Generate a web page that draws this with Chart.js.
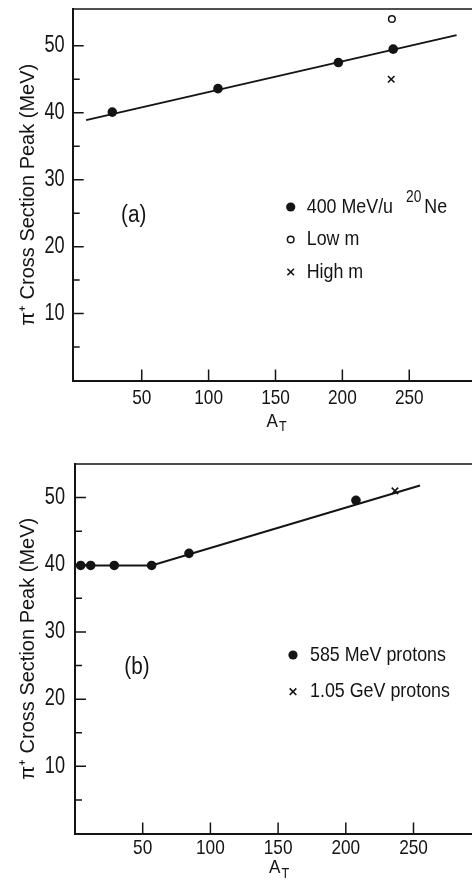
<!DOCTYPE html>
<html>
<head>
<meta charset="utf-8">
<script src="https://cdn.jsdelivr.net/npm/chart.js@4.4.0/dist/chart.umd.min.js"></script>
<style>
  html, body { margin: 0; padding: 0; background: #fff; }
  canvas { display: block; }
</style>
</head>
<body>
<canvas id="chart-a" width="472" height="441"></canvas>
<canvas id="chart-b" width="472" height="441"></canvas>
<script>
// (a) 400 MeV/u 20Ne beam
const neTargetA = [28, 107, 197, 238];
const nePeak = [40.1, 43.6, 47.5, 49.5];
const lowMTargetA = [237];
const lowMPeak = [54.0];
const highMTargetA = [236.5];
const highMPeak = [45.0];
const fitAX = [8.4, 285.4];
const fitAY = [38.9, 51.6];

// (b) proton beams
const protonTargetA = [4.2, 11.6, 29, 56.6, 84.2, 207.5];
const protonPeak = [39.9, 39.9, 39.9, 39.9, 41.7, 49.6];
const gevTargetA = [236.3];
const gevPeak = [51.0];
const fitBX = [4.2, 56.6, 254.8];
const fitBY = [39.9, 39.9, 51.8];

const xTickVals = [50, 100, 150, 200, 250];
const yTickVals = [10, 20, 30, 40, 50];
const yMinorVals = [5, 15, 25, 35, 45];

const FONT = '"Liberation Sans", Arial, sans-serif';
const INK = "#141414";
const SQ = 0.82; // horizontal squeeze, the original lettering is condensed

function pts(xs, ys) {
	return xs.map((v, i) => ({ x: v, y: ys[i] }));
}

function narrowText(ctx, text, x, y, size, align, squeeze) {
	let sq = squeeze || SQ;
	ctx.save();
	ctx.translate(x, y);
	ctx.scale(sq, 1);
	ctx.font = size + "px " + FONT;
	ctx.textAlign = align || "left";
	ctx.textBaseline = "middle";
	ctx.fillText(text, 0, 0);
	let w = ctx.measureText(text).width * sq;
	ctx.restore();
	return w;
}

function drawMarker(ctx, kind, x, y) {
	ctx.beginPath();
	if (kind === "dot") {
		ctx.arc(x, y, 4.6, 0, Math.PI * 2);
		ctx.fill();
	} else if (kind === "ring") {
		ctx.lineWidth = 1.5;
		ctx.arc(x, y, 3.3, 0, Math.PI * 2);
		ctx.stroke();
	} else {
		ctx.lineWidth = 1.6;
		ctx.moveTo(x - 3.3, y - 3.3);
		ctx.lineTo(x + 3.3, y + 3.3);
		ctx.moveTo(x + 3.3, y - 3.3);
		ctx.lineTo(x - 3.3, y + 3.3);
		ctx.stroke();
	}
}

// frame, inward ticks, tick labels, A_T title, panel label and legend
function makeDeco(cfg) {
	return {
		id: "paperDeco",
		afterDraw(chart) {
			const { ctx, chartArea: ca, scales } = chart;
			const x = scales.x;
			const y = scales.y;
			ctx.save();
			ctx.strokeStyle = INK;
			ctx.fillStyle = INK;

			ctx.lineWidth = 1.5;
			ctx.beginPath();
			ctx.moveTo(ca.left, ca.top);
			ctx.lineTo(ca.right, ca.top);
			ctx.stroke();

			ctx.beginPath();
			yTickVals.forEach((v) => {
				let p = y.getPixelForValue(v);
				ctx.moveTo(ca.left, p);
				ctx.lineTo(ca.left + 11, p);
			});
			yMinorVals.forEach((v) => {
				let p = y.getPixelForValue(v);
				ctx.moveTo(ca.left, p);
				ctx.lineTo(ca.left + 7, p);
			});
			xTickVals.forEach((v) => {
				let p = x.getPixelForValue(v);
				ctx.moveTo(p, ca.bottom);
				ctx.lineTo(p, ca.bottom - 11);
			});
			ctx.stroke();

			// tick labels
			xTickVals.forEach((v) => {
				narrowText(ctx, String(v), x.getPixelForValue(v), ca.bottom + cfg.xLabelDy, 21, "center");
			});
			yTickVals.forEach((v) => {
				narrowText(ctx, String(v), ca.left - cfg.yLabelGap, y.getPixelForValue(v), 23, "right", 0.79);
			});

			// x title: A with subscript T
			let cx = x.getPixelForValue(150) - 9;
			let ty = ca.bottom + cfg.titleDy;
			let wA = narrowText(ctx, "A", cx, ty, 19, "left", 0.9);
			narrowText(ctx, "T", cx + wA + 1, ty + 6, 14, "left", 0.9);

			// panel label
			narrowText(ctx, cfg.panel, ca.left + cfg.panelX, ca.top + cfg.panelY, 23, "center", 0.9);

			// legend
			cfg.legend.forEach((item, i) => {
				let my = ca.top + cfg.legendY + i * cfg.legendGap;
				let mx = ca.left + cfg.legendX;
				drawMarker(ctx, item.marker, mx, my);
				let tx = mx + cfg.textGap;
				item.parts.forEach((part) => {
					if (part.sup) tx += narrowText(ctx, part.t, tx + 13, my - 9, 16, "left", 0.86) + 16;
					else tx += narrowText(ctx, part.t, tx, my, 21, "left", 0.85);
				});
			});
			ctx.restore();
		},
	};
}

function dropPadding(s) {
	s.paddingLeft = 0;
	s.paddingRight = 0;
	s.paddingTop = 0;
	s.paddingBottom = 0;
}

function buildChart(id, datasets, cfg) {
	let ctx = document.getElementById(id).getContext("2d");
	return new Chart(ctx, {
		type: "scatter",
		data: { datasets: datasets },
		options: {
			responsive: false,
			animation: false,
			devicePixelRatio: 1,
			layout: {
				autoPadding: false,
				padding: { top: cfg.top, left: 0, right: 0, bottom: 0 },
			},
			plugins: {
				legend: { display: false },
				tooltip: { enabled: false },
				title: { display: false },
			},
			scales: {
				x: {
					type: "linear",
					min: cfg.xMin,
					max: cfg.xMax,
					afterBuildTicks: (s) => {
						s.ticks = xTickVals.map((v) => ({ value: v }));
					},
					afterFit: (s) => {
						s.height = cfg.xAxisHeight;
						dropPadding(s);
					},
					grid: { display: false, drawTicks: false },
					border: { display: true, color: INK, width: 2 },
					ticks: { display: false },
				},
				y: {
					type: "linear",
					min: 0,
					max: cfg.yMax,
					afterBuildTicks: (s) => {
						s.ticks = yTickVals.map((v) => ({ value: v }));
					},
					afterFit: (s) => {
						s.width = cfg.yAxisWidth;
						dropPadding(s);
					},
					grid: { display: false, drawTicks: false },
					border: { display: true, color: INK, width: 2 },
					ticks: { display: false },
					title: {
						display: true,
						text: "\u03c0\u207a Cross Section Peak (MeV)",
						color: INK,
						font: { family: FONT, size: 20 },
						padding: { top: 16, bottom: 0 },
					},
				},
			},
		},
		plugins: [makeDeco(cfg)],
	});
}

const lineStyle = {
	showLine: true,
	borderColor: INK,
	borderWidth: 2,
	pointRadius: 0,
	fill: false,
};
const dotStyle = {
	pointStyle: "circle",
	pointRadius: 4.8,
	backgroundColor: INK,
	borderColor: INK,
	borderWidth: 0,
};
const ringStyle = {
	pointStyle: "circle",
	pointRadius: 3.3,
	backgroundColor: "#fff",
	borderColor: INK,
	borderWidth: 1.5,
};
const crossStyle = {
	pointStyle: "crossRot",
	pointRadius: 4.6,
	borderColor: INK,
	borderWidth: 1.6,
};

buildChart(
	"chart-a",
	[
		{ label: "fit", data: pts(fitAX, fitAY), ...lineStyle },
		{ label: "400 MeV/u 20Ne", data: pts(neTargetA, nePeak), ...dotStyle },
		{ label: "Low m", data: pts(lowMTargetA, lowMPeak), ...ringStyle },
		{ label: "High m", data: pts(highMTargetA, highMPeak), ...crossStyle },
	],
	{
		top: 9,
		xMin: -1.6,
		xMax: 296.9,
		yMax: 55.5,
		yAxisWidth: 72.7,
		xAxisHeight: 60.5,
		xLabelDy: 17.5,
		yLabelGap: 8,
		titleDy: 41,
		panel: "(a)",
		panelX: 61,
		panelY: 207,
		legendX: 218,
		legendY: 198,
		legendGap: 32.5,
		textGap: 16,
		legend: [
			{ marker: "dot", parts: [{ t: "400 MeV/u" }, { t: "20", sup: true }, { t: "Ne" }] },
			{ marker: "ring", parts: [{ t: "Low m" }] },
			{ marker: "cross", parts: [{ t: "High m" }] },
		],
	}
);

buildChart(
	"chart-b",
	[
		{ label: "fit", data: pts(fitBX, fitBY), ...lineStyle },
		{ label: "585 MeV protons", data: pts(protonTargetA, protonPeak), ...dotStyle },
		{ label: "1.05 GeV protons", data: pts(gevTargetA, gevPeak), ...crossStyle },
	],
	{
		top: 23,
		xMin: 0,
		xMax: 293.2,
		yMax: 55.0,
		yAxisWidth: 75,
		xAxisHeight: 48.5,
		xLabelDy: 14.5,
		yLabelGap: 10,
		titleDy: 34.5,
		panel: "(b)",
		panelX: 62,
		panelY: 204,
		legendX: 218,
		legendY: 191,
		legendGap: 36.7,
		textGap: 17,
		legend: [
			{ marker: "dot", parts: [{ t: "585 MeV protons" }] },
			{ marker: "cross", parts: [{ t: "1.05 GeV protons" }] },
		],
	}
);
</script>
</body>
</html>
